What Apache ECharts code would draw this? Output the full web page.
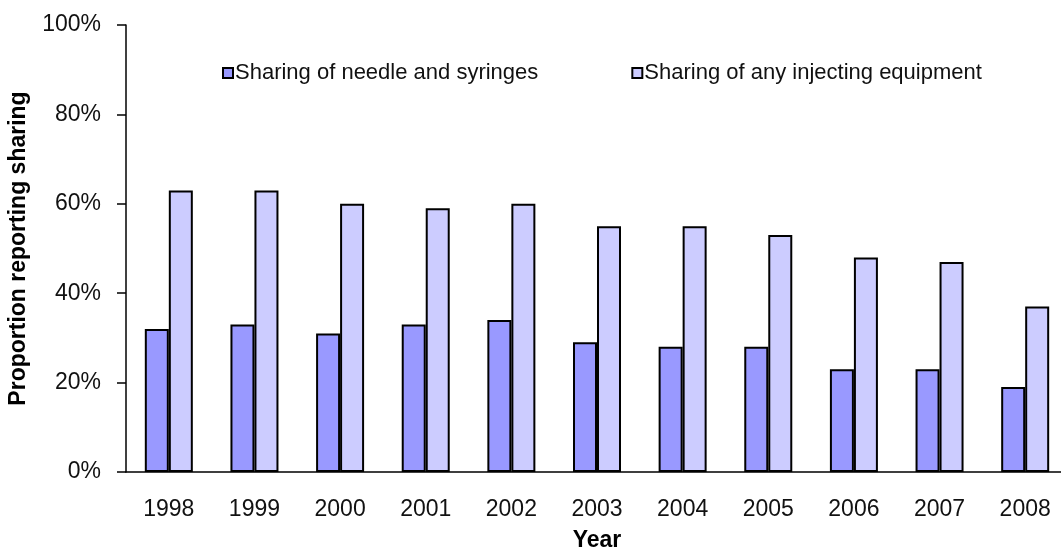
<!DOCTYPE html>
<html>
<head>
<meta charset="utf-8">
<script src="https://cdn.jsdelivr.net/npm/echarts@6/dist/echarts.min.js"></script>
<style>
  html, body { margin: 0; padding: 0; background: #fff; }
  #chart { width: 1061px; height: 549px; }
</style>
</head>
<body>
<div id="chart"></div>
<script>
// data
var years = ['1998', '1999', '2000', '2001', '2002', '2003', '2004', '2005', '2006', '2007', '2008']
var needleSyringes = [32, 33, 31, 33, 34, 29, 28, 28, 23, 23, 19]
var anyEquipment = [63, 63, 60, 59, 60, 55, 55, 53, 48, 47, 37]
var seriesNames = ['Sharing of needle and syringes', 'Sharing of any injecting equipment']

var font = 'Arial, "Liberation Sans", sans-serif'

var chart = echarts.init(document.getElementById('chart'))
var option = {
  animation: false,
  backgroundColor: '#fff',
  textStyle: { fontFamily: font },
  legend: {
    left: 222,
    top: 62,
    padding: 0,
    itemWidth: 10,
    itemHeight: 10,
    itemGap: 93,
    icon: 'rect',
    itemStyle: { borderColor: '#000', borderWidth: 2 },
    textStyle: { color: '#111', fontSize: 22, fontFamily: font, padding: [0, 0, 0, -3] },
    data: seriesNames
  },
  grid: {
    left: 126,
    top: 25,
    bottom: 77,
    right: -7,
    containLabel: false,
    outerBoundsMode: 'none'
  },
  xAxis: {
    type: 'category',
    data: years,
    name: 'Year',
    nameLocation: 'middle',
    nameGap: 57,
    nameTextStyle: { color: '#000', fontSize: 23, fontWeight: 'bold', fontFamily: font },
    axisLine: { lineStyle: { color: '#000', width: 1.5 } },
    axisTick: { length: 9, lineStyle: { color: '#000', width: 1.5 } },
    axisLabel: { color: '#111', fontSize: 23, margin: 26, fontFamily: font }
  },
  yAxis: {
    type: 'value',
    min: 0,
    max: 100,
    interval: 20,
    name: 'Proportion reporting sharing',
    nameLocation: 'middle',
    nameGap: 96,
    nameTextStyle: { color: '#000', fontSize: 23, fontWeight: 'bold', fontFamily: font },
    axisLine: { show: true, lineStyle: { color: '#000', width: 1.5 } },
    axisTick: { show: true, length: 9, lineStyle: { color: '#000', width: 1.5 } },
    splitLine: { show: false },
    axisLabel: { color: '#111', fontSize: 23, margin: 25, fontFamily: font, formatter: '{value}%' }
  },
  series: [
    {
      name: seriesNames[0],
      type: 'bar',
      data: needleSyringes,
      barWidth: 24,
      barGap: '0%',
      itemStyle: { color: '#9999FF', borderColor: '#000', borderWidth: 2 }
    },
    {
      name: seriesNames[1],
      type: 'bar',
      data: anyEquipment,
      barWidth: 24,
      barGap: '0%',
      itemStyle: { color: '#CCCCFF', borderColor: '#000', borderWidth: 2 }
    }
  ]
}
chart.setOption(option)
</script>
</body>
</html>
